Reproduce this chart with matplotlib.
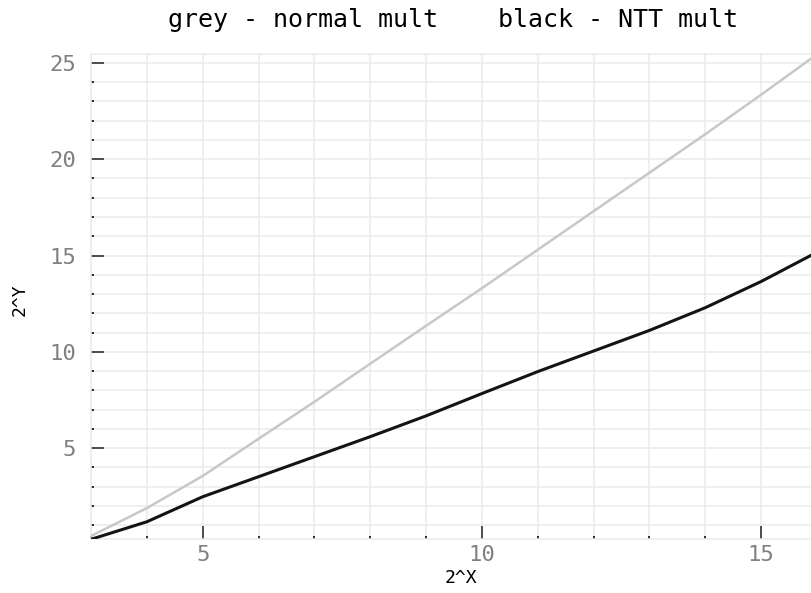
import matplotlib
matplotlib.use("Agg")
import matplotlib.pyplot as plt
from matplotlib.ticker import MultipleLocator

# exponents (x) and log2 cost (y)
x_exp = [3, 4, 5, 6, 7, 8, 9, 10, 11, 12, 13, 14, 15, 16]
normal_mult = [0.43, 1.88, 3.55, 5.48, 7.40, 9.38, 11.35, 13.30, 15.30, 17.30, 19.30, 21.30, 23.35, 25.45]
ntt_mult = [0.26, 1.17, 2.47, 3.51, 4.55, 5.59, 6.67, 7.83, 8.97, 10.04, 11.11, 12.29, 13.65, 15.17]

title = "grey - normal mult    black - NTT mult"
x_label = "2^X"
y_label = "2^Y"

W, H = 811, 593
fig = plt.figure(figsize=(W / 100, H / 100), dpi=100)
# plot runs a little past the right edge of the picture, as in the reference
left, right, top, bottom = 91, 817, 54.3, 539.3
ax = fig.add_axes([left / W, 1 - bottom / H, (right - left) / W, (bottom - top) / H])

grid_c = "#ebebeb"
ax.plot(x_exp, normal_mult, color="#c8c8c8", lw=1.8, solid_capstyle="butt", zorder=3)
ax.plot(x_exp, ntt_mult, color="#141414", lw=2.2, solid_capstyle="butt", zorder=4)

ax.set_xlim(min(x_exp), max(x_exp))
ax.set_ylim(min(ntt_mult), max(normal_mult))

ax.xaxis.set_major_locator(MultipleLocator(5))
ax.xaxis.set_minor_locator(MultipleLocator(1))
ax.yaxis.set_major_locator(MultipleLocator(5))
ax.yaxis.set_minor_locator(MultipleLocator(1))
ax.grid(which="both", color=grid_c, lw=1.1, zorder=0)
ax.set_axisbelow(True)

mono = "DejaVu Sans Mono"
ax.tick_params(axis="both", which="major", direction="in", length=9.5, width=1.3,
               colors="#404040", labelcolor="#808080", labelsize=16)
ax.tick_params(axis="both", which="minor", direction="in", length=2.5, width=1.3, colors="#202020")
ax.tick_params(axis="y", which="major", pad=11)
ax.tick_params(axis="x", which="major", pad=4)
for lab in ax.get_xticklabels() + ax.get_yticklabels():
    lab.set_family(mono)

for s in ax.spines.values():
    s.set_color(grid_c)
    s.set_linewidth(1.1)

fig.text(453 / W, 1 - 20 / H, title, ha="center", va="center", family=mono, fontsize=18,
         color="black")
fig.text(461 / W, 1 - 578 / H, x_label, ha="center", va="center", family=mono, fontsize=13,
         color="black")
fig.text(20 / W, 1 - 300 / H, y_label, ha="center", va="center", rotation=90, family=mono,
         fontsize=13, color="black")

fig.savefig("out.png", dpi=100)
plt.close(fig)
